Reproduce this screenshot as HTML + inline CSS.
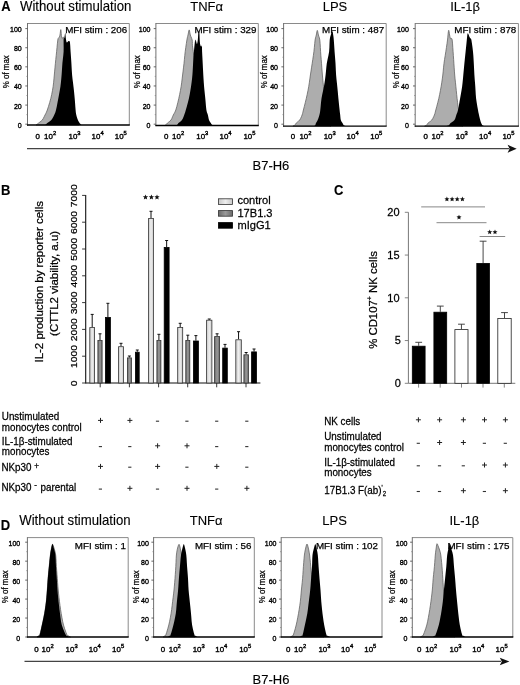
<!DOCTYPE html>
<html><head><meta charset="utf-8"><title>Figure</title>
<style>html,body{margin:0;padding:0;background:#fff;width:520px;height:685px;overflow:hidden}
svg{display:block}body{filter:grayscale(100%)}text{stroke:#000}</style></head><body>
<svg width="520" height="685" viewBox="0 0 520 685" font-family='"Liberation Sans", sans-serif'>
<rect width="520" height="685" fill="#fff"/>
<text transform="translate(1.2 11) scale(0.9390 1)" font-size="13.845" text-anchor="start" font-weight="bold" fill="#000" stroke-width="0.12">A</text>
<text transform="translate(1.0 195.2) scale(0.9390 1)" font-size="13.845" text-anchor="start" font-weight="bold" fill="#000" stroke-width="0.12">B</text>
<text transform="translate(334.0 195.3) scale(0.9390 1)" font-size="13.845" text-anchor="start" font-weight="bold" fill="#000" stroke-width="0.12">C</text>
<text transform="translate(0.8 530) scale(0.9390 1)" font-size="13.845" text-anchor="start" font-weight="bold" fill="#000" stroke-width="0.12">D</text>
<text transform="translate(20.0 11.4) scale(0.9524 1)" font-size="13.860" text-anchor="start" fill="#000" stroke-width="0.12">Without stimulation</text>
<line x1="27.5" y1="23.5" x2="129.3" y2="23.5" stroke="#8a8a8a" stroke-width="1"/>
<line x1="129.3" y1="23.5" x2="129.3" y2="125.0" stroke="#8a8a8a" stroke-width="1"/>
<polygon points="36.00,125.00 36.47,124.67 37.12,124.21 37.69,123.80 37.95,123.59 38.12,123.41 38.60,123.00 39.66,122.24 41.04,121.23 42.30,120.00 43.29,118.48 44.17,116.74 45.00,115.00 45.75,113.58 46.46,112.16 47.30,110.00 48.42,106.63 49.68,102.52 50.80,98.40 51.70,94.51 52.46,90.60 53.10,86.70 53.59,82.80 53.95,78.90 54.30,75.00 54.67,71.10 55.03,67.19 55.40,63.30 55.79,59.43 56.20,55.57 56.60,51.70 57.01,47.45 57.43,43.19 57.80,40.00 58.08,38.61 58.32,38.31 58.60,38.00 58.98,37.50 59.40,36.99 59.80,36.00 60.16,33.74 60.50,30.99 60.80,29.60 61.02,30.77 61.20,33.31 61.40,35.50 61.64,36.81 61.91,37.77 62.20,38.30 62.52,38.11 62.86,37.50 63.20,37.20 63.54,37.43 63.88,37.98 64.20,39.00 64.46,40.54 64.69,42.55 65.00,45.00 65.45,47.93 65.97,51.30 66.50,55.00 67.00,59.15 67.50,63.63 68.00,68.00 68.50,72.07 69.00,76.04 69.50,80.00 70.00,84.00 70.50,88.00 71.00,92.00 71.50,96.11 72.00,100.22 72.50,104.00 73.00,107.33 73.50,110.33 74.00,113.00 74.50,115.30 75.00,117.26 75.50,119.00 76.03,120.60 76.56,121.98 77.00,123.00 77.27,123.49 77.45,123.62 77.70,123.80 78.14,124.21 78.64,124.67 79.00,125.00" fill="#adadad" stroke="#5e5e5e" stroke-width="0.75" stroke-linejoin="round"/>
<polygon points="45.00,125.00 45.41,124.67 45.99,124.21 46.49,123.80 46.70,123.59 46.82,123.41 47.30,123.00 48.44,122.24 49.93,121.23 51.30,120.00 52.39,118.48 53.36,116.74 54.20,115.00 54.86,113.58 55.40,112.16 56.00,110.00 56.74,106.63 57.53,102.52 58.30,98.40 59.05,94.51 59.77,90.60 60.40,86.70 60.88,82.80 61.26,78.90 61.60,75.00 61.88,71.10 62.12,67.19 62.40,63.30 62.81,59.43 63.27,55.57 63.60,51.70 63.66,47.47 63.59,43.22 63.60,40.00 63.81,38.57 64.10,38.16 64.40,37.50 64.67,35.70 64.95,33.64 65.20,32.70 65.41,33.77 65.60,35.96 65.80,38.00 66.02,39.57 66.25,41.00 66.50,42.00 66.79,42.39 67.10,42.36 67.40,42.20 67.65,41.92 67.89,41.50 68.20,41.20 68.66,41.02 69.18,40.96 69.60,41.20 69.83,41.74 69.97,42.60 70.10,44.00 70.26,46.06 70.41,48.66 70.60,51.70 70.85,55.27 71.13,59.28 71.40,63.30 71.61,67.19 71.82,71.10 72.10,75.00 72.52,78.90 73.02,82.80 73.50,86.70 73.93,90.60 74.33,94.51 74.70,98.40 75.03,102.52 75.33,106.63 75.60,110.00 75.81,112.16 76.01,113.58 76.30,115.00 76.76,116.74 77.33,118.48 77.90,120.00 78.50,121.23 79.11,122.24 79.60,123.00 79.88,123.41 80.04,123.59 80.26,123.80 80.68,124.21 81.16,124.67 81.50,125.00" fill="#000"/>
<line x1="27.5" y1="23.0" x2="27.5" y2="125.6" stroke="#707070" stroke-width="1"/>
<line x1="27.0" y1="125.0" x2="129.8" y2="125.0" stroke="#000" stroke-width="1.4"/>
<line x1="25.3" y1="124.2" x2="27.5" y2="124.2" stroke="#444" stroke-width="0.8"/>
<text transform="translate(21.7 127.7) scale(0.8800 1)" font-size="8.000" text-anchor="end" fill="#000" stroke-width="0.38">0</text>
<line x1="26.3" y1="114.64" x2="27.5" y2="114.64" stroke="#777" stroke-width="0.6"/>
<line x1="25.3" y1="105.08000000000001" x2="27.5" y2="105.08000000000001" stroke="#444" stroke-width="0.8"/>
<text transform="translate(21.7 108.58000000000001) scale(0.8800 1)" font-size="8.000" text-anchor="end" fill="#000" stroke-width="0.38">20</text>
<line x1="26.3" y1="95.52000000000001" x2="27.5" y2="95.52000000000001" stroke="#777" stroke-width="0.6"/>
<line x1="25.3" y1="85.96000000000001" x2="27.5" y2="85.96000000000001" stroke="#444" stroke-width="0.8"/>
<text transform="translate(21.7 89.46000000000001) scale(0.8800 1)" font-size="8.000" text-anchor="end" fill="#000" stroke-width="0.38">40</text>
<line x1="26.3" y1="76.4" x2="27.5" y2="76.4" stroke="#777" stroke-width="0.6"/>
<line x1="25.3" y1="66.84" x2="27.5" y2="66.84" stroke="#444" stroke-width="0.8"/>
<text transform="translate(21.7 70.34) scale(0.8800 1)" font-size="8.000" text-anchor="end" fill="#000" stroke-width="0.38">60</text>
<line x1="26.3" y1="57.280000000000015" x2="27.5" y2="57.280000000000015" stroke="#777" stroke-width="0.6"/>
<line x1="25.3" y1="47.72000000000001" x2="27.5" y2="47.72000000000001" stroke="#444" stroke-width="0.8"/>
<text transform="translate(21.7 51.22000000000001) scale(0.8800 1)" font-size="8.000" text-anchor="end" fill="#000" stroke-width="0.38">80</text>
<line x1="26.3" y1="38.16000000000001" x2="27.5" y2="38.16000000000001" stroke="#777" stroke-width="0.6"/>
<line x1="25.3" y1="28.60000000000001" x2="27.5" y2="28.60000000000001" stroke="#444" stroke-width="0.8"/>
<text transform="translate(21.7 32.10000000000001) scale(0.8800 1)" font-size="8.000" text-anchor="end" fill="#000" stroke-width="0.38">100</text>
<text transform="translate(9.2 71.7) rotate(-90) scale(0.8800 1.0000)" font-size="9.000" text-anchor="middle" fill="#000" stroke-width="0.25">% of max</text>
<text transform="translate(127.2 32.8) scale(1.0000 1)" font-size="9.800" text-anchor="end" fill="#000" stroke-width="0.25">MFI stim : 206</text>
<text transform="translate(35.5 139.2) scale(1.0000 1)" font-size="7.900" text-anchor="start" fill="#000" stroke-width="0.38">0</text>
<text transform="translate(44.099999999999994 139.2) scale(1.0000 1)" font-size="7.900" text-anchor="start" stroke-width="0.38">10<tspan font-size="5.8" dy="-3.9">2</tspan></text>
<text transform="translate(68.5 139.2) scale(1.0000 1)" font-size="7.900" text-anchor="start" stroke-width="0.38">10<tspan font-size="5.8" dy="-3.9">3</tspan></text>
<text transform="translate(91.6 139.2) scale(1.0000 1)" font-size="7.900" text-anchor="start" stroke-width="0.38">10<tspan font-size="5.8" dy="-3.9">4</tspan></text>
<text transform="translate(114.8 139.2) scale(1.0000 1)" font-size="7.900" text-anchor="start" stroke-width="0.38">10<tspan font-size="5.8" dy="-3.9">5</tspan></text>
<text transform="translate(190.2 11.4) scale(0.9524 1)" font-size="13.650" text-anchor="start" fill="#000" stroke-width="0.12">TNFα</text>
<line x1="155.9" y1="23.5" x2="258.3" y2="23.5" stroke="#8a8a8a" stroke-width="1"/>
<line x1="258.3" y1="23.5" x2="258.3" y2="125.5" stroke="#8a8a8a" stroke-width="1"/>
<polygon points="164.60,125.50 165.12,125.19 165.85,124.75 166.48,124.30 166.80,123.94 167.01,123.56 167.50,123.00 168.53,122.20 169.83,121.21 171.00,120.00 171.85,118.48 172.56,116.74 173.30,115.00 174.10,113.58 174.92,112.16 175.80,110.00 176.79,106.63 177.83,102.52 178.80,98.40 179.65,94.51 180.42,90.60 181.10,86.70 181.66,82.80 182.14,78.90 182.60,75.00 183.08,71.10 183.55,67.19 184.00,63.30 184.40,59.43 184.77,55.57 185.20,51.70 185.75,47.56 186.36,43.41 186.90,40.00 187.31,37.84 187.65,36.43 188.00,35.00 188.40,32.93 188.80,30.85 189.20,29.90 189.54,30.85 189.88,32.93 190.30,35.00 190.94,36.67 191.66,38.32 192.20,40.00 192.37,41.67 192.34,43.36 192.40,45.20 192.64,47.08 192.97,49.11 193.30,51.70 193.63,55.19 193.97,59.24 194.30,63.30 194.60,67.19 194.90,71.10 195.20,75.00 195.51,78.90 195.84,82.80 196.20,86.70 196.60,90.60 197.03,94.51 197.50,98.40 198.01,102.33 198.57,106.26 199.20,110.00 199.96,113.66 200.79,117.15 201.50,120.00 201.95,121.97 202.28,123.31 202.72,124.30 203.49,124.97 204.37,125.30 205.00,125.50" fill="#adadad" stroke="#5e5e5e" stroke-width="0.75" stroke-linejoin="round"/>
<polygon points="176.00,125.50 176.45,125.19 177.08,124.75 177.62,124.30 177.88,123.94 178.04,123.56 178.50,123.00 179.52,122.20 180.83,121.21 182.00,120.00 182.85,118.48 183.56,116.74 184.20,115.00 184.72,113.58 185.18,112.16 185.80,110.00 186.76,106.63 187.89,102.52 188.90,98.40 189.70,94.51 190.39,90.60 191.00,86.70 191.54,82.80 192.01,78.90 192.40,75.00 192.68,71.10 192.89,67.19 193.10,63.30 193.34,59.43 193.60,55.57 193.90,51.70 194.31,47.30 194.76,42.89 195.10,40.00 195.24,39.82 195.26,41.17 195.30,42.00 195.38,41.28 195.47,40.05 195.60,39.40 195.80,39.90 196.05,40.99 196.30,42.00 196.53,42.93 196.76,43.80 197.00,44.00 197.27,43.22 197.55,41.78 197.80,40.00 197.99,37.69 198.14,35.05 198.30,33.00 198.46,31.91 198.63,31.42 198.80,31.30 199.00,31.42 199.22,31.91 199.40,33.00 199.51,35.01 199.59,37.62 199.70,40.00 199.86,41.94 200.05,43.66 200.30,45.00 200.65,45.90 201.06,46.41 201.40,46.60 201.62,46.06 201.78,45.19 201.90,45.20 201.97,46.59 202.01,48.86 202.10,51.70 202.27,55.19 202.49,59.24 202.70,63.30 202.89,67.19 203.09,71.10 203.30,75.00 203.54,78.90 203.80,82.80 204.10,86.70 204.47,90.60 204.89,94.51 205.30,98.40 205.66,102.52 206.01,106.63 206.40,110.00 206.89,112.16 207.41,113.58 207.90,115.00 208.27,116.74 208.60,118.48 209.00,120.00 209.59,121.21 210.25,122.20 210.80,123.00 211.11,123.56 211.30,123.94 211.57,124.30 212.05,124.75 212.60,125.19 213.00,125.50" fill="#000"/>
<line x1="155.9" y1="23.0" x2="155.9" y2="126.1" stroke="#707070" stroke-width="1"/>
<line x1="155.4" y1="125.5" x2="258.8" y2="125.5" stroke="#000" stroke-width="1.4"/>
<line x1="153.70000000000002" y1="124.2" x2="155.9" y2="124.2" stroke="#444" stroke-width="0.8"/>
<text transform="translate(150.5 127.7) scale(0.8800 1)" font-size="8.000" text-anchor="end" fill="#000" stroke-width="0.38">0</text>
<line x1="154.70000000000002" y1="114.64" x2="155.9" y2="114.64" stroke="#777" stroke-width="0.6"/>
<line x1="153.70000000000002" y1="105.08000000000001" x2="155.9" y2="105.08000000000001" stroke="#444" stroke-width="0.8"/>
<text transform="translate(150.5 108.58000000000001) scale(0.8800 1)" font-size="8.000" text-anchor="end" fill="#000" stroke-width="0.38">20</text>
<line x1="154.70000000000002" y1="95.52000000000001" x2="155.9" y2="95.52000000000001" stroke="#777" stroke-width="0.6"/>
<line x1="153.70000000000002" y1="85.96000000000001" x2="155.9" y2="85.96000000000001" stroke="#444" stroke-width="0.8"/>
<text transform="translate(150.5 89.46000000000001) scale(0.8800 1)" font-size="8.000" text-anchor="end" fill="#000" stroke-width="0.38">40</text>
<line x1="154.70000000000002" y1="76.4" x2="155.9" y2="76.4" stroke="#777" stroke-width="0.6"/>
<line x1="153.70000000000002" y1="66.84" x2="155.9" y2="66.84" stroke="#444" stroke-width="0.8"/>
<text transform="translate(150.5 70.34) scale(0.8800 1)" font-size="8.000" text-anchor="end" fill="#000" stroke-width="0.38">60</text>
<line x1="154.70000000000002" y1="57.280000000000015" x2="155.9" y2="57.280000000000015" stroke="#777" stroke-width="0.6"/>
<line x1="153.70000000000002" y1="47.72000000000001" x2="155.9" y2="47.72000000000001" stroke="#444" stroke-width="0.8"/>
<text transform="translate(150.5 51.22000000000001) scale(0.8800 1)" font-size="8.000" text-anchor="end" fill="#000" stroke-width="0.38">80</text>
<line x1="154.70000000000002" y1="38.16000000000001" x2="155.9" y2="38.16000000000001" stroke="#777" stroke-width="0.6"/>
<line x1="153.70000000000002" y1="28.60000000000001" x2="155.9" y2="28.60000000000001" stroke="#444" stroke-width="0.8"/>
<text transform="translate(150.5 32.10000000000001) scale(0.8800 1)" font-size="8.000" text-anchor="end" fill="#000" stroke-width="0.38">100</text>
<text transform="translate(140.3 71.7) rotate(-90) scale(0.8800 1.0000)" font-size="9.000" text-anchor="middle" fill="#000" stroke-width="0.25">% of max</text>
<text transform="translate(256.5 32.8) scale(1.0000 1)" font-size="9.800" text-anchor="end" fill="#000" stroke-width="0.25">MFI stim : 329</text>
<text transform="translate(164.1 139.2) scale(1.0000 1)" font-size="7.900" text-anchor="start" fill="#000" stroke-width="0.38">0</text>
<text transform="translate(172.10000000000002 139.2) scale(1.0000 1)" font-size="7.900" text-anchor="start" stroke-width="0.38">10<tspan font-size="5.8" dy="-3.9">2</tspan></text>
<text transform="translate(196.3 139.2) scale(1.0000 1)" font-size="7.900" text-anchor="start" stroke-width="0.38">10<tspan font-size="5.8" dy="-3.9">3</tspan></text>
<text transform="translate(219.5 139.2) scale(1.0000 1)" font-size="7.900" text-anchor="start" stroke-width="0.38">10<tspan font-size="5.8" dy="-3.9">4</tspan></text>
<text transform="translate(243.4 139.2) scale(1.0000 1)" font-size="7.900" text-anchor="start" stroke-width="0.38">10<tspan font-size="5.8" dy="-3.9">5</tspan></text>
<text transform="translate(322.7 11.4) scale(0.9524 1)" font-size="13.650" text-anchor="start" fill="#000" stroke-width="0.12">LPS</text>
<line x1="283.6" y1="23.5" x2="386.2" y2="23.5" stroke="#8a8a8a" stroke-width="1"/>
<line x1="386.2" y1="23.5" x2="386.2" y2="126.1" stroke="#8a8a8a" stroke-width="1"/>
<polygon points="292.90,126.10 293.51,125.81 294.37,125.40 295.11,124.90 295.50,124.36 295.78,123.74 296.30,123.00 297.31,122.16 298.56,121.19 299.70,120.00 300.61,118.48 301.42,116.74 302.10,115.00 302.56,113.58 302.89,112.16 303.40,110.00 304.27,106.63 305.31,102.52 306.30,98.40 307.16,94.51 307.97,90.60 308.70,86.70 309.31,82.80 309.85,78.90 310.40,75.00 311.00,71.10 311.60,67.19 312.20,63.30 312.79,59.43 313.37,55.57 313.90,51.70 314.34,47.56 314.72,43.41 315.10,40.00 315.51,37.82 315.91,36.39 316.30,35.00 316.64,33.10 316.97,31.24 317.30,30.40 317.65,31.24 318.01,33.10 318.40,35.00 318.87,36.39 319.37,37.82 319.80,40.00 320.11,43.41 320.35,47.56 320.60,51.70 320.89,55.57 321.20,59.43 321.50,63.30 321.79,67.19 322.09,71.10 322.40,75.00 322.74,78.90 323.11,82.80 323.50,86.70 323.90,90.60 324.33,94.51 324.80,98.40 325.33,102.33 325.90,106.26 326.50,110.00 327.19,113.64 327.91,117.10 328.50,120.00 328.85,122.15 329.07,123.73 329.38,124.90 329.92,125.62 330.55,125.93 331.00,126.10" fill="#adadad" stroke="#5e5e5e" stroke-width="0.75" stroke-linejoin="round"/>
<polygon points="314.20,126.10 314.52,125.81 314.98,125.40 315.37,124.90 315.58,124.36 315.73,123.74 316.00,123.00 316.49,122.16 317.09,121.19 317.70,120.00 318.30,118.48 318.89,116.74 319.40,115.00 319.75,113.58 320.01,112.16 320.30,110.00 320.63,106.63 321.00,102.52 321.50,98.40 322.24,94.51 323.11,90.60 323.90,86.70 324.54,82.80 325.10,78.90 325.60,75.00 326.00,71.10 326.34,67.19 326.80,63.30 327.55,59.43 328.42,55.57 329.10,51.70 329.41,47.56 329.53,43.41 329.70,40.00 330.01,37.79 330.39,36.33 330.80,35.00 331.29,33.36 331.83,31.86 332.30,31.20 332.66,31.86 332.94,33.36 333.20,35.00 333.41,36.33 333.60,37.79 333.80,40.00 334.05,43.41 334.32,47.56 334.60,51.70 334.90,55.57 335.22,59.43 335.50,63.30 335.70,67.19 335.87,71.10 336.10,75.00 336.46,78.90 336.89,82.80 337.30,86.70 337.67,90.60 338.03,94.51 338.40,98.40 338.81,102.52 339.24,106.63 339.60,110.00 339.84,112.16 340.02,113.58 340.20,115.00 340.36,116.74 340.52,118.48 340.80,120.00 341.31,121.19 341.94,122.16 342.50,123.00 342.86,123.74 343.14,124.36 343.51,124.90 344.15,125.40 344.88,125.81 345.40,126.10" fill="#000"/>
<line x1="283.6" y1="23.0" x2="283.6" y2="126.69999999999999" stroke="#707070" stroke-width="1"/>
<line x1="283.1" y1="126.1" x2="386.7" y2="126.1" stroke="#000" stroke-width="1.4"/>
<line x1="281.40000000000003" y1="124.2" x2="283.6" y2="124.2" stroke="#444" stroke-width="0.8"/>
<text transform="translate(278.0 127.7) scale(0.8800 1)" font-size="8.000" text-anchor="end" fill="#000" stroke-width="0.38">0</text>
<line x1="282.40000000000003" y1="114.64" x2="283.6" y2="114.64" stroke="#777" stroke-width="0.6"/>
<line x1="281.40000000000003" y1="105.08000000000001" x2="283.6" y2="105.08000000000001" stroke="#444" stroke-width="0.8"/>
<text transform="translate(278.0 108.58000000000001) scale(0.8800 1)" font-size="8.000" text-anchor="end" fill="#000" stroke-width="0.38">20</text>
<line x1="282.40000000000003" y1="95.52000000000001" x2="283.6" y2="95.52000000000001" stroke="#777" stroke-width="0.6"/>
<line x1="281.40000000000003" y1="85.96000000000001" x2="283.6" y2="85.96000000000001" stroke="#444" stroke-width="0.8"/>
<text transform="translate(278.0 89.46000000000001) scale(0.8800 1)" font-size="8.000" text-anchor="end" fill="#000" stroke-width="0.38">40</text>
<line x1="282.40000000000003" y1="76.4" x2="283.6" y2="76.4" stroke="#777" stroke-width="0.6"/>
<line x1="281.40000000000003" y1="66.84" x2="283.6" y2="66.84" stroke="#444" stroke-width="0.8"/>
<text transform="translate(278.0 70.34) scale(0.8800 1)" font-size="8.000" text-anchor="end" fill="#000" stroke-width="0.38">60</text>
<line x1="282.40000000000003" y1="57.280000000000015" x2="283.6" y2="57.280000000000015" stroke="#777" stroke-width="0.6"/>
<line x1="281.40000000000003" y1="47.72000000000001" x2="283.6" y2="47.72000000000001" stroke="#444" stroke-width="0.8"/>
<text transform="translate(278.0 51.22000000000001) scale(0.8800 1)" font-size="8.000" text-anchor="end" fill="#000" stroke-width="0.38">80</text>
<line x1="282.40000000000003" y1="38.16000000000001" x2="283.6" y2="38.16000000000001" stroke="#777" stroke-width="0.6"/>
<line x1="281.40000000000003" y1="28.60000000000001" x2="283.6" y2="28.60000000000001" stroke="#444" stroke-width="0.8"/>
<text transform="translate(278.0 32.10000000000001) scale(0.8800 1)" font-size="8.000" text-anchor="end" fill="#000" stroke-width="0.38">100</text>
<text transform="translate(267.0 71.7) rotate(-90) scale(0.8800 1.0000)" font-size="9.000" text-anchor="middle" fill="#000" stroke-width="0.25">% of max</text>
<text transform="translate(384.1 32.8) scale(1.0000 1)" font-size="9.800" text-anchor="end" fill="#000" stroke-width="0.25">MFI stim : 487</text>
<text transform="translate(290.7 139.2) scale(1.0000 1)" font-size="7.900" text-anchor="start" fill="#000" stroke-width="0.38">0</text>
<text transform="translate(299.40000000000003 139.2) scale(1.0000 1)" font-size="7.900" text-anchor="start" stroke-width="0.38">10<tspan font-size="5.8" dy="-3.9">2</tspan></text>
<text transform="translate(323.7 139.2) scale(1.0000 1)" font-size="7.900" text-anchor="start" stroke-width="0.38">10<tspan font-size="5.8" dy="-3.9">3</tspan></text>
<text transform="translate(346.6 139.2) scale(1.0000 1)" font-size="7.900" text-anchor="start" stroke-width="0.38">10<tspan font-size="5.8" dy="-3.9">4</tspan></text>
<text transform="translate(370.3 139.2) scale(1.0000 1)" font-size="7.900" text-anchor="start" stroke-width="0.38">10<tspan font-size="5.8" dy="-3.9">5</tspan></text>
<text transform="translate(450.2 11.4) scale(0.9524 1)" font-size="13.650" text-anchor="start" fill="#000" stroke-width="0.12">IL-1β</text>
<line x1="415.2" y1="23.5" x2="518.4" y2="23.5" stroke="#8a8a8a" stroke-width="1"/>
<line x1="518.4" y1="23.5" x2="518.4" y2="126.1" stroke="#8a8a8a" stroke-width="1"/>
<polygon points="424.60,126.10 425.23,125.81 426.11,125.40 426.88,124.90 427.27,124.36 427.55,123.74 428.10,123.00 429.19,122.16 430.56,121.19 431.80,120.00 432.79,118.48 433.66,116.74 434.40,115.00 434.90,113.58 435.26,112.16 435.80,110.00 436.71,106.63 437.79,102.52 438.80,98.40 439.64,94.51 440.40,90.60 441.10,86.70 441.73,82.80 442.29,78.90 442.80,75.00 443.21,71.10 443.57,67.19 444.00,63.30 444.56,59.43 445.19,55.57 445.80,51.70 446.41,47.63 447.01,43.56 447.50,40.00 447.81,37.16 448.01,34.84 448.20,33.00 448.40,31.51 448.59,30.49 448.80,30.30 449.05,31.35 449.32,33.23 449.60,35.00 449.90,36.49 450.21,37.87 450.50,38.80 450.74,38.94 450.95,38.62 451.20,38.50 451.51,38.49 451.86,38.68 452.20,40.00 452.51,43.15 452.81,47.43 453.10,51.70 453.37,55.57 453.64,59.43 453.90,63.30 454.15,67.19 454.40,71.10 454.70,75.00 455.07,78.90 455.49,82.80 455.90,86.70 456.29,90.60 456.68,94.51 457.10,98.40 457.56,102.33 458.06,106.26 458.60,110.00 459.24,113.64 459.93,117.10 460.50,120.00 460.84,122.15 461.07,123.73 461.38,124.90 461.92,125.62 462.55,125.93 463.00,126.10" fill="#adadad" stroke="#5e5e5e" stroke-width="0.75" stroke-linejoin="round"/>
<polygon points="446.50,126.10 447.24,125.81 448.27,125.40 449.17,124.90 449.64,124.36 449.98,123.74 450.60,123.00 451.80,122.16 453.26,121.19 454.50,120.00 455.26,118.48 455.79,116.74 456.30,115.00 456.86,113.58 457.41,112.16 458.00,110.00 458.67,106.63 459.39,102.52 460.10,98.40 460.80,94.51 461.50,90.60 462.10,86.70 462.56,82.80 462.94,78.90 463.30,75.00 463.67,71.10 464.03,67.19 464.40,63.30 464.79,59.43 465.20,55.57 465.60,51.70 466.03,47.56 466.45,43.41 466.80,40.00 467.02,37.71 467.16,36.17 467.30,35.00 467.46,34.08 467.61,33.53 467.80,33.30 468.04,33.44 468.31,33.90 468.60,34.50 468.89,35.27 469.19,36.19 469.50,37.00 469.83,37.57 470.17,38.04 470.50,38.50 470.78,38.62 471.05,38.74 471.40,40.00 471.91,43.15 472.50,47.43 473.00,51.70 473.33,55.57 473.58,59.43 473.80,63.30 474.00,67.19 474.19,71.10 474.40,75.00 474.68,78.90 475.00,82.80 475.30,86.70 475.53,90.60 475.76,94.51 476.10,98.40 476.69,102.52 477.39,106.63 478.00,110.00 478.39,112.16 478.69,113.58 479.00,115.00 479.39,116.74 479.81,118.48 480.20,120.00 480.55,121.19 480.88,122.16 481.20,123.00 481.50,123.74 481.79,124.36 482.18,124.90 482.79,125.40 483.50,125.81 484.00,126.10" fill="#000"/>
<line x1="415.2" y1="23.0" x2="415.2" y2="126.69999999999999" stroke="#707070" stroke-width="1"/>
<line x1="414.7" y1="126.1" x2="518.9" y2="126.1" stroke="#000" stroke-width="1.4"/>
<line x1="413.0" y1="124.2" x2="415.2" y2="124.2" stroke="#444" stroke-width="0.8"/>
<text transform="translate(408.8 127.7) scale(0.8800 1)" font-size="8.000" text-anchor="end" fill="#000" stroke-width="0.38">0</text>
<line x1="414.0" y1="114.64" x2="415.2" y2="114.64" stroke="#777" stroke-width="0.6"/>
<line x1="413.0" y1="105.08000000000001" x2="415.2" y2="105.08000000000001" stroke="#444" stroke-width="0.8"/>
<text transform="translate(408.8 108.58000000000001) scale(0.8800 1)" font-size="8.000" text-anchor="end" fill="#000" stroke-width="0.38">20</text>
<line x1="414.0" y1="95.52000000000001" x2="415.2" y2="95.52000000000001" stroke="#777" stroke-width="0.6"/>
<line x1="413.0" y1="85.96000000000001" x2="415.2" y2="85.96000000000001" stroke="#444" stroke-width="0.8"/>
<text transform="translate(408.8 89.46000000000001) scale(0.8800 1)" font-size="8.000" text-anchor="end" fill="#000" stroke-width="0.38">40</text>
<line x1="414.0" y1="76.4" x2="415.2" y2="76.4" stroke="#777" stroke-width="0.6"/>
<line x1="413.0" y1="66.84" x2="415.2" y2="66.84" stroke="#444" stroke-width="0.8"/>
<text transform="translate(408.8 70.34) scale(0.8800 1)" font-size="8.000" text-anchor="end" fill="#000" stroke-width="0.38">60</text>
<line x1="414.0" y1="57.280000000000015" x2="415.2" y2="57.280000000000015" stroke="#777" stroke-width="0.6"/>
<line x1="413.0" y1="47.72000000000001" x2="415.2" y2="47.72000000000001" stroke="#444" stroke-width="0.8"/>
<text transform="translate(408.8 51.22000000000001) scale(0.8800 1)" font-size="8.000" text-anchor="end" fill="#000" stroke-width="0.38">80</text>
<line x1="414.0" y1="38.16000000000001" x2="415.2" y2="38.16000000000001" stroke="#777" stroke-width="0.6"/>
<line x1="413.0" y1="28.60000000000001" x2="415.2" y2="28.60000000000001" stroke="#444" stroke-width="0.8"/>
<text transform="translate(408.8 32.10000000000001) scale(0.8800 1)" font-size="8.000" text-anchor="end" fill="#000" stroke-width="0.38">100</text>
<text transform="translate(398.8 71.7) rotate(-90) scale(0.8800 1.0000)" font-size="9.000" text-anchor="middle" fill="#000" stroke-width="0.25">% of max</text>
<text transform="translate(516.3 32.8) scale(1.0000 1)" font-size="9.800" text-anchor="end" fill="#000" stroke-width="0.25">MFI stim : 878</text>
<text transform="translate(423.5 139.2) scale(1.0000 1)" font-size="7.900" text-anchor="start" fill="#000" stroke-width="0.38">0</text>
<text transform="translate(431.5 139.2) scale(1.0000 1)" font-size="7.900" text-anchor="start" stroke-width="0.38">10<tspan font-size="5.8" dy="-3.9">2</tspan></text>
<text transform="translate(455.8 139.2) scale(1.0000 1)" font-size="7.900" text-anchor="start" stroke-width="0.38">10<tspan font-size="5.8" dy="-3.9">3</tspan></text>
<text transform="translate(479.1 139.2) scale(1.0000 1)" font-size="7.900" text-anchor="start" stroke-width="0.38">10<tspan font-size="5.8" dy="-3.9">4</tspan></text>
<text transform="translate(502.40000000000003 139.2) scale(1.0000 1)" font-size="7.900" text-anchor="start" stroke-width="0.38">10<tspan font-size="5.8" dy="-3.9">5</tspan></text>
<line x1="27" y1="148.7" x2="509" y2="148.7" stroke="#444" stroke-width="1.3"/>
<path d="M516.7,148.7 L507.6,144.7 L509.6,148.7 L507.6,152.7 Z" fill="#111"/>
<text transform="translate(252.5 170) scale(0.9804 1)" font-size="13.260" text-anchor="start" fill="#000" stroke-width="0.12">B7-H6</text>
<text transform="translate(19.2 524.9) scale(0.9524 1)" font-size="13.860" text-anchor="start" fill="#000" stroke-width="0.12">Without stimulation</text>
<line x1="27.4" y1="537.6" x2="128.2" y2="537.6" stroke="#8a8a8a" stroke-width="1"/>
<line x1="128.2" y1="537.6" x2="128.2" y2="637.0" stroke="#8a8a8a" stroke-width="1"/>
<polygon points="37.00,637.00 37.50,636.67 38.21,636.21 38.82,635.80 39.16,635.84 39.40,635.93 39.80,635.00 40.49,632.41 41.35,628.79 42.20,625.00 43.03,621.26 43.85,617.33 44.60,613.40 45.24,609.51 45.81,605.60 46.30,601.70 46.69,597.80 47.01,593.89 47.30,590.00 47.57,586.13 47.82,582.27 48.10,578.40 48.44,574.51 48.81,570.60 49.20,566.70 49.59,562.66 49.99,558.63 50.40,555.00 50.84,551.86 51.29,549.14 51.70,547.00 52.02,545.51 52.30,544.60 52.60,544.30 52.92,544.60 53.26,545.51 53.70,547.00 54.35,549.14 55.10,551.86 55.70,555.00 56.02,558.63 56.20,562.66 56.40,566.70 56.69,570.60 56.99,574.51 57.30,578.40 57.59,582.27 57.87,586.13 58.20,590.00 58.59,593.89 59.02,597.80 59.50,601.70 60.01,605.60 60.57,609.51 61.20,613.40 61.88,617.33 62.62,621.26 63.50,625.00 64.66,628.79 65.96,632.41 67.00,635.00 67.54,635.93 67.82,635.84 68.22,635.80 68.99,636.21 69.87,636.67 70.50,637.00" fill="#adadad" stroke="#5e5e5e" stroke-width="0.75" stroke-linejoin="round"/>
<polygon points="36.50,637.00 37.06,636.67 37.84,636.21 38.52,635.80 38.90,635.84 39.18,635.93 39.60,635.00 40.27,632.41 41.08,628.79 41.90,625.00 42.72,621.26 43.55,617.33 44.30,613.40 44.94,609.51 45.51,605.60 46.00,601.70 46.39,597.80 46.71,593.89 47.00,590.00 47.27,586.13 47.52,582.27 47.80,578.40 48.14,574.51 48.51,570.60 48.90,566.70 49.29,562.66 49.68,558.63 50.10,555.00 50.57,551.87 51.06,549.16 51.50,547.00 51.86,545.41 52.18,544.37 52.50,544.00 52.80,544.37 53.10,545.41 53.50,547.00 54.11,549.16 54.83,551.87 55.40,555.00 55.69,558.63 55.83,562.66 56.00,566.70 56.26,570.60 56.53,574.51 56.80,578.40 57.03,582.27 57.24,586.13 57.50,590.00 57.83,593.89 58.20,597.80 58.60,601.70 59.03,605.60 59.49,609.51 60.00,613.40 60.49,617.33 61.01,621.26 61.80,625.00 63.11,628.79 64.67,632.41 65.90,635.00 66.45,635.93 66.67,635.84 66.99,635.80 67.66,636.21 68.44,636.67 69.00,637.00" fill="#000"/>
<line x1="27.4" y1="537.1" x2="27.4" y2="637.6" stroke="#707070" stroke-width="1"/>
<line x1="26.9" y1="637.0" x2="128.7" y2="637.0" stroke="#000" stroke-width="1.4"/>
<line x1="25.2" y1="637.0" x2="27.4" y2="637.0" stroke="#444" stroke-width="0.8"/>
<text transform="translate(20.2 640.5) scale(0.8800 1)" font-size="8.000" text-anchor="end" fill="#000" stroke-width="0.38">0</text>
<line x1="26.2" y1="627.52" x2="27.4" y2="627.52" stroke="#777" stroke-width="0.6"/>
<line x1="25.2" y1="618.04" x2="27.4" y2="618.04" stroke="#444" stroke-width="0.8"/>
<text transform="translate(20.2 621.54) scale(0.8800 1)" font-size="8.000" text-anchor="end" fill="#000" stroke-width="0.38">20</text>
<line x1="26.2" y1="608.5600000000001" x2="27.4" y2="608.5600000000001" stroke="#777" stroke-width="0.6"/>
<line x1="25.2" y1="599.08" x2="27.4" y2="599.08" stroke="#444" stroke-width="0.8"/>
<text transform="translate(20.2 602.58) scale(0.8800 1)" font-size="8.000" text-anchor="end" fill="#000" stroke-width="0.38">40</text>
<line x1="26.2" y1="589.6" x2="27.4" y2="589.6" stroke="#777" stroke-width="0.6"/>
<line x1="25.2" y1="580.12" x2="27.4" y2="580.12" stroke="#444" stroke-width="0.8"/>
<text transform="translate(20.2 583.62) scale(0.8800 1)" font-size="8.000" text-anchor="end" fill="#000" stroke-width="0.38">60</text>
<line x1="26.2" y1="570.64" x2="27.4" y2="570.64" stroke="#777" stroke-width="0.6"/>
<line x1="25.2" y1="561.1600000000001" x2="27.4" y2="561.1600000000001" stroke="#444" stroke-width="0.8"/>
<text transform="translate(20.2 564.6600000000001) scale(0.8800 1)" font-size="8.000" text-anchor="end" fill="#000" stroke-width="0.38">80</text>
<line x1="26.2" y1="551.6800000000001" x2="27.4" y2="551.6800000000001" stroke="#777" stroke-width="0.6"/>
<line x1="25.2" y1="542.2" x2="27.4" y2="542.2" stroke="#444" stroke-width="0.8"/>
<text transform="translate(20.2 545.7) scale(0.8800 1)" font-size="8.000" text-anchor="end" fill="#000" stroke-width="0.38">100</text>
<text transform="translate(7.5 586.7) rotate(-90) scale(0.8800 1.0000)" font-size="9.000" text-anchor="middle" fill="#000" stroke-width="0.25">% of max</text>
<text transform="translate(126.0 548.6) scale(1.0000 1)" font-size="9.800" text-anchor="end" fill="#000" stroke-width="0.25">MFI stim : 1</text>
<text transform="translate(34.2 651.6) scale(1.0000 1)" font-size="7.900" text-anchor="start" fill="#000" stroke-width="0.38">0</text>
<text transform="translate(41.599999999999994 651.6) scale(1.0000 1)" font-size="7.900" text-anchor="start" stroke-width="0.38">10<tspan font-size="5.8" dy="-3.9">2</tspan></text>
<text transform="translate(65.6 651.6) scale(1.0000 1)" font-size="7.900" text-anchor="start" stroke-width="0.38">10<tspan font-size="5.8" dy="-3.9">3</tspan></text>
<text transform="translate(88.8 651.6) scale(1.0000 1)" font-size="7.900" text-anchor="start" stroke-width="0.38">10<tspan font-size="5.8" dy="-3.9">4</tspan></text>
<text transform="translate(112.1 651.6) scale(1.0000 1)" font-size="7.900" text-anchor="start" stroke-width="0.38">10<tspan font-size="5.8" dy="-3.9">5</tspan></text>
<text transform="translate(189.7 524.9) scale(0.9524 1)" font-size="13.650" text-anchor="start" fill="#000" stroke-width="0.12">TNFα</text>
<line x1="153.6" y1="537.6" x2="254.3" y2="537.6" stroke="#8a8a8a" stroke-width="1"/>
<line x1="254.3" y1="537.6" x2="254.3" y2="637.0" stroke="#8a8a8a" stroke-width="1"/>
<polygon points="163.00,637.00 163.50,636.67 164.21,636.21 164.82,635.80 165.13,635.84 165.35,635.93 165.80,635.00 166.68,632.41 167.78,628.79 168.80,625.00 169.65,621.26 170.42,617.33 171.10,613.40 171.66,609.51 172.14,605.60 172.60,601.70 173.09,597.80 173.57,593.89 174.00,590.00 174.37,586.13 174.70,582.27 175.00,578.40 175.29,574.51 175.56,570.60 175.80,566.70 175.99,562.63 176.16,558.55 176.40,555.00 176.75,552.20 177.16,549.91 177.60,548.00 178.07,546.29 178.56,544.94 179.00,544.30 179.38,544.71 179.71,545.84 180.00,547.00 180.22,547.90 180.39,548.84 180.60,550.00 180.88,551.27 181.20,552.76 181.50,555.00 181.77,558.40 182.03,562.55 182.30,566.70 182.60,570.60 182.90,574.51 183.20,578.40 183.46,582.27 183.71,586.13 184.00,590.00 184.37,593.89 184.78,597.80 185.20,601.70 185.60,605.60 186.01,609.51 186.50,613.40 187.08,617.33 187.73,621.26 188.50,625.00 189.49,628.79 190.59,632.41 191.50,635.00 192.00,635.93 192.30,635.84 192.73,635.80 193.49,636.21 194.37,636.67 195.00,637.00" fill="#adadad" stroke="#5e5e5e" stroke-width="0.75" stroke-linejoin="round"/>
<polygon points="167.50,637.00 168.04,636.67 168.79,636.21 169.45,635.80 169.80,635.84 170.05,635.93 170.50,635.00 171.35,632.41 172.40,628.79 173.40,625.00 174.29,621.26 175.11,617.33 175.80,613.40 176.26,609.51 176.57,605.60 176.90,601.70 177.31,597.80 177.73,593.89 178.10,590.00 178.39,586.13 178.63,582.27 178.90,578.40 179.21,574.51 179.55,570.60 179.90,566.70 180.24,562.63 180.60,558.55 181.00,555.00 181.48,552.21 182.00,549.94 182.50,548.00 182.95,546.15 183.38,544.63 183.80,544.00 184.20,544.63 184.60,546.15 185.00,548.00 185.44,549.94 185.90,552.21 186.30,555.00 186.60,558.55 186.84,562.63 187.10,566.70 187.40,570.60 187.72,574.51 188.00,578.40 188.20,582.27 188.37,586.13 188.60,590.00 188.96,593.89 189.38,597.80 189.80,601.70 190.20,605.60 190.61,609.51 191.00,613.40 191.33,617.33 191.64,621.26 192.10,625.00 192.85,628.79 193.75,632.41 194.50,635.00 194.92,635.93 195.18,635.84 195.55,635.80 196.21,636.21 196.96,636.67 197.50,637.00" fill="#000"/>
<line x1="153.6" y1="537.1" x2="153.6" y2="637.6" stroke="#707070" stroke-width="1"/>
<line x1="153.1" y1="637.0" x2="254.8" y2="637.0" stroke="#000" stroke-width="1.4"/>
<line x1="151.4" y1="637.0" x2="153.6" y2="637.0" stroke="#444" stroke-width="0.8"/>
<text transform="translate(148.9 640.5) scale(0.8800 1)" font-size="8.000" text-anchor="end" fill="#000" stroke-width="0.38">0</text>
<line x1="152.4" y1="627.52" x2="153.6" y2="627.52" stroke="#777" stroke-width="0.6"/>
<line x1="151.4" y1="618.04" x2="153.6" y2="618.04" stroke="#444" stroke-width="0.8"/>
<text transform="translate(148.9 621.54) scale(0.8800 1)" font-size="8.000" text-anchor="end" fill="#000" stroke-width="0.38">20</text>
<line x1="152.4" y1="608.5600000000001" x2="153.6" y2="608.5600000000001" stroke="#777" stroke-width="0.6"/>
<line x1="151.4" y1="599.08" x2="153.6" y2="599.08" stroke="#444" stroke-width="0.8"/>
<text transform="translate(148.9 602.58) scale(0.8800 1)" font-size="8.000" text-anchor="end" fill="#000" stroke-width="0.38">40</text>
<line x1="152.4" y1="589.6" x2="153.6" y2="589.6" stroke="#777" stroke-width="0.6"/>
<line x1="151.4" y1="580.12" x2="153.6" y2="580.12" stroke="#444" stroke-width="0.8"/>
<text transform="translate(148.9 583.62) scale(0.8800 1)" font-size="8.000" text-anchor="end" fill="#000" stroke-width="0.38">60</text>
<line x1="152.4" y1="570.64" x2="153.6" y2="570.64" stroke="#777" stroke-width="0.6"/>
<line x1="151.4" y1="561.1600000000001" x2="153.6" y2="561.1600000000001" stroke="#444" stroke-width="0.8"/>
<text transform="translate(148.9 564.6600000000001) scale(0.8800 1)" font-size="8.000" text-anchor="end" fill="#000" stroke-width="0.38">80</text>
<line x1="152.4" y1="551.6800000000001" x2="153.6" y2="551.6800000000001" stroke="#777" stroke-width="0.6"/>
<line x1="151.4" y1="542.2" x2="153.6" y2="542.2" stroke="#444" stroke-width="0.8"/>
<text transform="translate(148.9 545.7) scale(0.8800 1)" font-size="8.000" text-anchor="end" fill="#000" stroke-width="0.38">100</text>
<text transform="translate(138.5 586.7) rotate(-90) scale(0.8800 1.0000)" font-size="9.000" text-anchor="middle" fill="#000" stroke-width="0.25">% of max</text>
<text transform="translate(251.5 548.6) scale(1.0000 1)" font-size="9.800" text-anchor="end" fill="#000" stroke-width="0.25">MFI stim : 56</text>
<text transform="translate(160.7 651.6) scale(1.0000 1)" font-size="7.900" text-anchor="start" fill="#000" stroke-width="0.38">0</text>
<text transform="translate(168.8 651.6) scale(1.0000 1)" font-size="7.900" text-anchor="start" stroke-width="0.38">10<tspan font-size="5.8" dy="-3.9">2</tspan></text>
<text transform="translate(192.70000000000002 651.6) scale(1.0000 1)" font-size="7.900" text-anchor="start" stroke-width="0.38">10<tspan font-size="5.8" dy="-3.9">3</tspan></text>
<text transform="translate(215.3 651.6) scale(1.0000 1)" font-size="7.900" text-anchor="start" stroke-width="0.38">10<tspan font-size="5.8" dy="-3.9">4</tspan></text>
<text transform="translate(239.20000000000002 651.6) scale(1.0000 1)" font-size="7.900" text-anchor="start" stroke-width="0.38">10<tspan font-size="5.8" dy="-3.9">5</tspan></text>
<text transform="translate(322.3 524.9) scale(0.9524 1)" font-size="13.650" text-anchor="start" fill="#000" stroke-width="0.12">LPS</text>
<line x1="281.2" y1="537.6" x2="382" y2="537.6" stroke="#8a8a8a" stroke-width="1"/>
<line x1="382" y1="537.6" x2="382" y2="637.0" stroke="#8a8a8a" stroke-width="1"/>
<polygon points="290.50,637.00 291.00,636.67 291.71,636.21 292.32,635.80 292.64,635.84 292.86,635.93 293.30,635.00 294.15,632.41 295.21,628.79 296.20,625.00 297.03,621.26 297.79,617.33 298.50,613.40 299.16,609.51 299.77,605.60 300.30,601.70 300.71,597.80 301.05,593.89 301.40,590.00 301.81,586.13 302.23,582.27 302.60,578.40 302.89,574.51 303.13,570.60 303.40,566.70 303.71,562.63 304.04,558.55 304.40,555.00 304.81,552.21 305.26,549.94 305.70,548.00 306.13,546.15 306.57,544.63 307.00,544.00 307.43,544.63 307.87,546.15 308.30,548.00 308.74,549.94 309.17,552.21 309.60,555.00 310.01,558.55 310.42,562.63 310.80,566.70 311.14,570.60 311.46,574.51 311.80,578.40 312.18,582.27 312.59,586.13 313.00,590.00 313.42,593.89 313.85,597.80 314.30,601.70 314.77,605.60 315.26,609.51 315.80,613.40 316.40,617.33 317.06,621.26 317.80,625.00 318.70,628.79 319.68,632.41 320.50,635.00 320.98,635.93 321.29,635.84 321.73,635.80 322.49,636.21 323.37,636.67 324.00,637.00" fill="#adadad" stroke="#5e5e5e" stroke-width="0.75" stroke-linejoin="round"/>
<polygon points="299.50,637.00 300.06,636.67 300.84,636.21 301.51,635.80 301.90,635.84 302.18,635.93 302.60,635.00 303.27,632.41 304.08,628.79 304.90,625.00 305.73,621.26 306.56,617.33 307.30,613.40 307.87,609.51 308.34,605.60 308.80,601.70 309.29,597.80 309.77,593.89 310.20,590.00 310.54,586.13 310.82,582.27 311.10,578.40 311.41,574.51 311.73,570.60 312.00,566.70 312.16,562.63 312.27,558.55 312.50,555.00 312.93,552.21 313.48,549.94 314.00,548.00 314.45,546.15 314.88,544.63 315.30,544.00 315.70,544.63 316.10,546.15 316.50,548.00 316.94,549.94 317.40,552.21 317.80,555.00 318.10,558.55 318.34,562.63 318.60,566.70 318.89,570.60 319.19,574.51 319.50,578.40 319.83,582.27 320.18,586.13 320.50,590.00 320.77,593.89 321.01,597.80 321.30,601.70 321.65,605.60 322.05,609.51 322.50,613.40 323.01,617.33 323.57,621.26 324.20,625.00 324.96,628.79 325.79,632.41 326.50,635.00 326.95,635.93 327.28,635.84 327.72,635.80 328.49,636.21 329.37,636.67 330.00,637.00" fill="#000"/>
<line x1="281.2" y1="537.1" x2="281.2" y2="637.6" stroke="#707070" stroke-width="1"/>
<line x1="280.7" y1="637.0" x2="382.5" y2="637.0" stroke="#000" stroke-width="1.4"/>
<line x1="279.0" y1="637.0" x2="281.2" y2="637.0" stroke="#444" stroke-width="0.8"/>
<text transform="translate(276.5 640.5) scale(0.8800 1)" font-size="8.000" text-anchor="end" fill="#000" stroke-width="0.38">0</text>
<line x1="280.0" y1="627.52" x2="281.2" y2="627.52" stroke="#777" stroke-width="0.6"/>
<line x1="279.0" y1="618.04" x2="281.2" y2="618.04" stroke="#444" stroke-width="0.8"/>
<text transform="translate(276.5 621.54) scale(0.8800 1)" font-size="8.000" text-anchor="end" fill="#000" stroke-width="0.38">20</text>
<line x1="280.0" y1="608.5600000000001" x2="281.2" y2="608.5600000000001" stroke="#777" stroke-width="0.6"/>
<line x1="279.0" y1="599.08" x2="281.2" y2="599.08" stroke="#444" stroke-width="0.8"/>
<text transform="translate(276.5 602.58) scale(0.8800 1)" font-size="8.000" text-anchor="end" fill="#000" stroke-width="0.38">40</text>
<line x1="280.0" y1="589.6" x2="281.2" y2="589.6" stroke="#777" stroke-width="0.6"/>
<line x1="279.0" y1="580.12" x2="281.2" y2="580.12" stroke="#444" stroke-width="0.8"/>
<text transform="translate(276.5 583.62) scale(0.8800 1)" font-size="8.000" text-anchor="end" fill="#000" stroke-width="0.38">60</text>
<line x1="280.0" y1="570.64" x2="281.2" y2="570.64" stroke="#777" stroke-width="0.6"/>
<line x1="279.0" y1="561.1600000000001" x2="281.2" y2="561.1600000000001" stroke="#444" stroke-width="0.8"/>
<text transform="translate(276.5 564.6600000000001) scale(0.8800 1)" font-size="8.000" text-anchor="end" fill="#000" stroke-width="0.38">80</text>
<line x1="280.0" y1="551.6800000000001" x2="281.2" y2="551.6800000000001" stroke="#777" stroke-width="0.6"/>
<line x1="279.0" y1="542.2" x2="281.2" y2="542.2" stroke="#444" stroke-width="0.8"/>
<text transform="translate(276.5 545.7) scale(0.8800 1)" font-size="8.000" text-anchor="end" fill="#000" stroke-width="0.38">100</text>
<text transform="translate(264.6 586.7) rotate(-90) scale(0.8800 1.0000)" font-size="9.000" text-anchor="middle" fill="#000" stroke-width="0.25">% of max</text>
<text transform="translate(378.0 548.6) scale(1.0000 1)" font-size="9.800" text-anchor="end" fill="#000" stroke-width="0.25">MFI stim : 102</text>
<text transform="translate(286.0 651.6) scale(1.0000 1)" font-size="7.900" text-anchor="start" fill="#000" stroke-width="0.38">0</text>
<text transform="translate(294.1 651.6) scale(1.0000 1)" font-size="7.900" text-anchor="start" stroke-width="0.38">10<tspan font-size="5.8" dy="-3.9">2</tspan></text>
<text transform="translate(318.40000000000003 651.6) scale(1.0000 1)" font-size="7.900" text-anchor="start" stroke-width="0.38">10<tspan font-size="5.8" dy="-3.9">3</tspan></text>
<text transform="translate(341.1 651.6) scale(1.0000 1)" font-size="7.900" text-anchor="start" stroke-width="0.38">10<tspan font-size="5.8" dy="-3.9">4</tspan></text>
<text transform="translate(364.3 651.6) scale(1.0000 1)" font-size="7.900" text-anchor="start" stroke-width="0.38">10<tspan font-size="5.8" dy="-3.9">5</tspan></text>
<text transform="translate(449.5 524.9) scale(0.9524 1)" font-size="13.650" text-anchor="start" fill="#000" stroke-width="0.12">IL-1β</text>
<line x1="412.3" y1="537.6" x2="512.8" y2="537.6" stroke="#8a8a8a" stroke-width="1"/>
<line x1="512.8" y1="537.6" x2="512.8" y2="637.0" stroke="#8a8a8a" stroke-width="1"/>
<polygon points="420.50,637.00 421.00,636.67 421.71,636.21 422.32,635.80 422.62,635.84 422.82,635.93 423.30,635.00 424.32,632.41 425.63,628.79 426.80,625.00 427.67,621.26 428.41,617.33 429.10,613.40 429.75,609.51 430.35,605.60 430.90,601.70 431.41,597.80 431.89,593.89 432.30,590.00 432.63,586.13 432.90,582.27 433.20,578.40 433.59,574.51 434.01,570.60 434.40,566.70 434.72,562.63 435.01,558.55 435.30,555.00 435.60,552.22 435.91,549.96 436.20,548.00 436.45,546.09 436.69,544.47 437.00,543.70 437.46,544.25 438.00,545.64 438.50,547.00 438.89,547.95 439.24,548.86 439.60,550.00 439.99,551.27 440.40,552.76 440.80,555.00 441.21,558.40 441.63,562.55 442.00,566.70 442.30,570.60 442.56,574.51 442.80,578.40 443.03,582.27 443.24,586.13 443.50,590.00 443.83,593.89 444.20,597.80 444.60,601.70 445.02,605.60 445.48,609.51 446.00,613.40 446.59,617.33 447.24,621.26 448.00,625.00 448.99,628.79 450.08,632.41 451.00,635.00 451.54,635.93 451.90,635.84 452.40,635.80 453.27,636.21 454.28,636.67 455.00,637.00" fill="#adadad" stroke="#5e5e5e" stroke-width="0.75" stroke-linejoin="round"/>
<polygon points="432.50,637.00 433.04,636.67 433.79,636.21 434.45,635.80 434.78,635.84 435.02,635.93 435.50,635.00 436.47,632.41 437.69,628.79 438.80,625.00 439.66,621.26 440.41,617.33 441.10,613.40 441.73,609.51 442.30,605.60 442.80,601.70 443.21,597.80 443.55,593.89 443.90,590.00 444.29,586.13 444.70,582.27 445.10,578.40 445.51,574.51 445.92,570.60 446.30,566.70 446.60,562.63 446.87,558.55 447.20,555.00 447.64,552.21 448.13,549.94 448.60,548.00 449.01,546.15 449.41,544.63 449.80,544.00 450.17,544.63 450.54,546.15 451.00,548.00 451.64,549.94 452.38,552.21 453.00,555.00 453.40,558.55 453.70,562.63 454.00,566.70 454.37,570.60 454.74,574.51 455.10,578.40 455.41,582.27 455.69,586.13 456.00,590.00 456.35,593.89 456.72,597.80 457.10,601.70 457.48,605.60 457.87,609.51 458.30,613.40 458.74,617.33 459.22,621.26 459.80,625.00 460.58,628.79 461.46,632.41 462.20,635.00 462.64,635.93 462.94,635.84 463.36,635.80 464.08,636.21 464.91,636.67 465.50,637.00" fill="#000"/>
<line x1="412.3" y1="537.1" x2="412.3" y2="637.6" stroke="#707070" stroke-width="1"/>
<line x1="411.8" y1="637.0" x2="513.3" y2="637.0" stroke="#000" stroke-width="1.4"/>
<line x1="410.1" y1="637.0" x2="412.3" y2="637.0" stroke="#444" stroke-width="0.8"/>
<text transform="translate(407.5 640.5) scale(0.8800 1)" font-size="8.000" text-anchor="end" fill="#000" stroke-width="0.38">0</text>
<line x1="411.1" y1="627.52" x2="412.3" y2="627.52" stroke="#777" stroke-width="0.6"/>
<line x1="410.1" y1="618.04" x2="412.3" y2="618.04" stroke="#444" stroke-width="0.8"/>
<text transform="translate(407.5 621.54) scale(0.8800 1)" font-size="8.000" text-anchor="end" fill="#000" stroke-width="0.38">20</text>
<line x1="411.1" y1="608.5600000000001" x2="412.3" y2="608.5600000000001" stroke="#777" stroke-width="0.6"/>
<line x1="410.1" y1="599.08" x2="412.3" y2="599.08" stroke="#444" stroke-width="0.8"/>
<text transform="translate(407.5 602.58) scale(0.8800 1)" font-size="8.000" text-anchor="end" fill="#000" stroke-width="0.38">40</text>
<line x1="411.1" y1="589.6" x2="412.3" y2="589.6" stroke="#777" stroke-width="0.6"/>
<line x1="410.1" y1="580.12" x2="412.3" y2="580.12" stroke="#444" stroke-width="0.8"/>
<text transform="translate(407.5 583.62) scale(0.8800 1)" font-size="8.000" text-anchor="end" fill="#000" stroke-width="0.38">60</text>
<line x1="411.1" y1="570.64" x2="412.3" y2="570.64" stroke="#777" stroke-width="0.6"/>
<line x1="410.1" y1="561.1600000000001" x2="412.3" y2="561.1600000000001" stroke="#444" stroke-width="0.8"/>
<text transform="translate(407.5 564.6600000000001) scale(0.8800 1)" font-size="8.000" text-anchor="end" fill="#000" stroke-width="0.38">80</text>
<line x1="411.1" y1="551.6800000000001" x2="412.3" y2="551.6800000000001" stroke="#777" stroke-width="0.6"/>
<line x1="410.1" y1="542.2" x2="412.3" y2="542.2" stroke="#444" stroke-width="0.8"/>
<text transform="translate(407.5 545.7) scale(0.8800 1)" font-size="8.000" text-anchor="end" fill="#000" stroke-width="0.38">100</text>
<text transform="translate(395.4 586.7) rotate(-90) scale(0.8800 1.0000)" font-size="9.000" text-anchor="middle" fill="#000" stroke-width="0.25">% of max</text>
<text transform="translate(509.5 548.6) scale(1.0000 1)" font-size="9.800" text-anchor="end" fill="#000" stroke-width="0.25">MFI stim : 175</text>
<text transform="translate(417.09999999999997 651.6) scale(1.0000 1)" font-size="7.900" text-anchor="start" fill="#000" stroke-width="0.38">0</text>
<text transform="translate(425.2 651.6) scale(1.0000 1)" font-size="7.900" text-anchor="start" stroke-width="0.38">10<tspan font-size="5.8" dy="-3.9">2</tspan></text>
<text transform="translate(449.5 651.6) scale(1.0000 1)" font-size="7.900" text-anchor="start" stroke-width="0.38">10<tspan font-size="5.8" dy="-3.9">3</tspan></text>
<text transform="translate(472.3 651.6) scale(1.0000 1)" font-size="7.900" text-anchor="start" stroke-width="0.38">10<tspan font-size="5.8" dy="-3.9">4</tspan></text>
<text transform="translate(495.6 651.6) scale(1.0000 1)" font-size="7.900" text-anchor="start" stroke-width="0.38">10<tspan font-size="5.8" dy="-3.9">5</tspan></text>
<line x1="24.5" y1="661.4" x2="501" y2="661.4" stroke="#444" stroke-width="1.3"/>
<path d="M509.4,661.5 L499.8,657.8 L501.8,661.5 L499.8,665.2 Z" fill="#111"/>
<text transform="translate(252.6 684.2) scale(0.9804 1)" font-size="13.260" text-anchor="start" fill="#000" stroke-width="0.12">B7-H6</text>
<line x1="85.7" y1="195.1" x2="85.7" y2="383.5" stroke="#111" stroke-width="1.1"/>
<line x1="85.7" y1="383.0" x2="260.4" y2="383.0" stroke="#111" stroke-width="1.1"/>
<line x1="82.10000000000001" y1="383.0" x2="85.7" y2="383.0" stroke="#222" stroke-width="0.9"/>
<text transform="translate(77.0 383.3) rotate(-90) scale(1.0000 0.9390)" font-size="10.300" text-anchor="middle" fill="#000" stroke-width="0.25">0</text>
<line x1="82.10000000000001" y1="356.2" x2="85.7" y2="356.2" stroke="#222" stroke-width="0.9"/>
<text transform="translate(77.0 356.5) rotate(-90) scale(1.0000 0.9390)" font-size="10.300" text-anchor="middle" fill="#000" stroke-width="0.25">1000</text>
<line x1="82.10000000000001" y1="329.4" x2="85.7" y2="329.4" stroke="#222" stroke-width="0.9"/>
<text transform="translate(77.0 329.7) rotate(-90) scale(1.0000 0.9390)" font-size="10.300" text-anchor="middle" fill="#000" stroke-width="0.25">2000</text>
<line x1="82.10000000000001" y1="302.6" x2="85.7" y2="302.6" stroke="#222" stroke-width="0.9"/>
<text transform="translate(77.0 302.90000000000003) rotate(-90) scale(1.0000 0.9390)" font-size="10.300" text-anchor="middle" fill="#000" stroke-width="0.25">3000</text>
<line x1="82.10000000000001" y1="275.8" x2="85.7" y2="275.8" stroke="#222" stroke-width="0.9"/>
<text transform="translate(77.0 276.1) rotate(-90) scale(1.0000 0.9390)" font-size="10.300" text-anchor="middle" fill="#000" stroke-width="0.25">4000</text>
<line x1="82.10000000000001" y1="249.0" x2="85.7" y2="249.0" stroke="#222" stroke-width="0.9"/>
<text transform="translate(77.0 249.3) rotate(-90) scale(1.0000 0.9390)" font-size="10.300" text-anchor="middle" fill="#000" stroke-width="0.25">5000</text>
<line x1="82.10000000000001" y1="222.2" x2="85.7" y2="222.2" stroke="#222" stroke-width="0.9"/>
<text transform="translate(77.0 222.5) rotate(-90) scale(1.0000 0.9390)" font-size="10.300" text-anchor="middle" fill="#000" stroke-width="0.25">6000</text>
<line x1="82.10000000000001" y1="195.4" x2="85.7" y2="195.4" stroke="#222" stroke-width="0.9"/>
<text transform="translate(77.0 195.70000000000002) rotate(-90) scale(1.0000 0.9390)" font-size="10.300" text-anchor="middle" fill="#000" stroke-width="0.25">7000</text>
<text transform="translate(43.3 281.8) rotate(-90) scale(1.0000 0.9390)" font-size="11.500" text-anchor="middle" fill="#000" stroke-width="0.25">IL-2 production by reporter cells</text>
<text transform="translate(57.7 283.4) rotate(-90) scale(1.0000 0.9390)" font-size="11.500" text-anchor="middle" fill="#000" stroke-width="0.25">(CTTL2 viability, a.u)</text>
<line x1="100.2" y1="383.0" x2="100.2" y2="387.3" stroke="#222" stroke-width="0.9"/>
<line x1="129.4" y1="383.0" x2="129.4" y2="387.3" stroke="#222" stroke-width="0.9"/>
<line x1="158.6" y1="383.0" x2="158.6" y2="387.3" stroke="#222" stroke-width="0.9"/>
<line x1="187.7" y1="383.0" x2="187.7" y2="387.3" stroke="#222" stroke-width="0.9"/>
<line x1="216.7" y1="383.0" x2="216.7" y2="387.3" stroke="#222" stroke-width="0.9"/>
<line x1="246.0" y1="383.0" x2="246.0" y2="387.3" stroke="#222" stroke-width="0.9"/>
<defs><linearGradient id="gl" x1="0" x2="1" y1="0" y2="0"><stop offset="0" stop-color="#c8c8c8"/><stop offset="0.5" stop-color="#eeeeee"/><stop offset="1" stop-color="#c8c8c8"/></linearGradient><linearGradient id="gd" x1="0" x2="1" y1="0" y2="0"><stop offset="0" stop-color="#6a6a6a"/><stop offset="0.5" stop-color="#9a9a9a"/><stop offset="1" stop-color="#6a6a6a"/></linearGradient></defs>
<line x1="92.2" y1="314.4" x2="92.2" y2="327.2" stroke="#111" stroke-width="1.0"/>
<line x1="90.7" y1="314.4" x2="93.7" y2="314.4" stroke="#111" stroke-width="1.0"/>
<rect x="89.80000000000001" y="327.59999999999997" width="4.7999999999999945" height="55.40000000000001" fill="url(#gl)" stroke="#333" stroke-width="0.8"/>
<line x1="100.0" y1="333.8" x2="100.0" y2="340.0" stroke="#111" stroke-width="1.0"/>
<line x1="98.5" y1="333.8" x2="101.5" y2="333.8" stroke="#111" stroke-width="1.0"/>
<rect x="97.9" y="340.4" width="4.2" height="42.6" fill="url(#gd)" stroke="#333" stroke-width="0.8"/>
<line x1="107.9" y1="303.3" x2="107.9" y2="317.0" stroke="#111" stroke-width="1.0"/>
<line x1="106.4" y1="303.3" x2="109.4" y2="303.3" stroke="#111" stroke-width="1.0"/>
<rect x="105.4" y="317.4" width="4.999999999999997" height="65.6" fill="#000" stroke="#000" stroke-width="0.8"/>
<line x1="121.0" y1="343.3" x2="121.0" y2="346.3" stroke="#111" stroke-width="1.0"/>
<line x1="119.5" y1="343.3" x2="122.5" y2="343.3" stroke="#111" stroke-width="1.0"/>
<rect x="118.60000000000001" y="346.7" width="4.7999999999999945" height="36.29999999999999" fill="url(#gl)" stroke="#333" stroke-width="0.8"/>
<line x1="129.4" y1="356.0" x2="129.4" y2="357.5" stroke="#111" stroke-width="1.0"/>
<line x1="127.9" y1="356.0" x2="130.9" y2="356.0" stroke="#111" stroke-width="1.0"/>
<rect x="127.4" y="357.9" width="4.0000000000000115" height="25.1" fill="url(#gd)" stroke="#333" stroke-width="0.8"/>
<line x1="137.3" y1="350.0" x2="137.3" y2="351.8" stroke="#111" stroke-width="1.0"/>
<line x1="135.8" y1="350.0" x2="138.8" y2="350.0" stroke="#111" stroke-width="1.0"/>
<rect x="135.4" y="352.2" width="3.7999999999999945" height="30.79999999999999" fill="#000" stroke="#000" stroke-width="0.8"/>
<line x1="151.0" y1="211.3" x2="151.0" y2="218.0" stroke="#111" stroke-width="1.0"/>
<line x1="149.5" y1="211.3" x2="152.5" y2="211.3" stroke="#111" stroke-width="1.0"/>
<rect x="148.6" y="218.4" width="4.800000000000023" height="164.6" fill="url(#gl)" stroke="#333" stroke-width="0.8"/>
<line x1="158.9" y1="334.3" x2="158.9" y2="340.0" stroke="#111" stroke-width="1.0"/>
<line x1="157.4" y1="334.3" x2="160.4" y2="334.3" stroke="#111" stroke-width="1.0"/>
<rect x="156.9" y="340.4" width="4.0000000000000115" height="42.6" fill="url(#gd)" stroke="#333" stroke-width="0.8"/>
<line x1="166.65" y1="240.5" x2="166.65" y2="247.0" stroke="#111" stroke-width="1.0"/>
<line x1="165.15" y1="240.5" x2="168.15" y2="240.5" stroke="#111" stroke-width="1.0"/>
<rect x="164.20000000000002" y="247.4" width="4.899999999999989" height="135.6" fill="#000" stroke="#000" stroke-width="0.8"/>
<line x1="180.2" y1="323.3" x2="180.2" y2="327.1" stroke="#111" stroke-width="1.0"/>
<line x1="178.7" y1="323.3" x2="181.7" y2="323.3" stroke="#111" stroke-width="1.0"/>
<rect x="177.70000000000002" y="327.5" width="4.999999999999983" height="55.49999999999998" fill="url(#gl)" stroke="#333" stroke-width="0.8"/>
<line x1="187.8" y1="335.2" x2="187.8" y2="340.0" stroke="#111" stroke-width="1.0"/>
<line x1="186.3" y1="335.2" x2="189.3" y2="335.2" stroke="#111" stroke-width="1.0"/>
<rect x="185.8" y="340.4" width="3.999999999999983" height="42.6" fill="url(#gd)" stroke="#333" stroke-width="0.8"/>
<line x1="195.9" y1="335.6" x2="195.9" y2="340.6" stroke="#111" stroke-width="1.0"/>
<line x1="194.4" y1="335.6" x2="197.4" y2="335.6" stroke="#111" stroke-width="1.0"/>
<rect x="193.4" y="341.0" width="5.0000000000000115" height="41.99999999999998" fill="#000" stroke="#000" stroke-width="0.8"/>
<line x1="209.25" y1="319.0" x2="209.25" y2="319.8" stroke="#111" stroke-width="1.0"/>
<line x1="207.75" y1="319.0" x2="210.75" y2="319.0" stroke="#111" stroke-width="1.0"/>
<rect x="206.6" y="320.2" width="5.300000000000023" height="62.79999999999999" fill="url(#gl)" stroke="#333" stroke-width="0.8"/>
<line x1="217.1" y1="333.8" x2="217.1" y2="336.2" stroke="#111" stroke-width="1.0"/>
<line x1="215.6" y1="333.8" x2="218.6" y2="333.8" stroke="#111" stroke-width="1.0"/>
<rect x="214.6" y="336.59999999999997" width="5.0000000000000115" height="46.40000000000001" fill="url(#gd)" stroke="#333" stroke-width="0.8"/>
<line x1="225.0" y1="344.4" x2="225.0" y2="347.7" stroke="#111" stroke-width="1.0"/>
<line x1="223.5" y1="344.4" x2="226.5" y2="344.4" stroke="#111" stroke-width="1.0"/>
<rect x="222.70000000000002" y="348.09999999999997" width="4.599999999999977" height="34.90000000000001" fill="#000" stroke="#000" stroke-width="0.8"/>
<line x1="238.55" y1="331.7" x2="238.55" y2="339.4" stroke="#111" stroke-width="1.0"/>
<line x1="237.05" y1="331.7" x2="240.05" y2="331.7" stroke="#111" stroke-width="1.0"/>
<rect x="235.8" y="339.79999999999995" width="5.499999999999983" height="43.200000000000024" fill="url(#gl)" stroke="#333" stroke-width="0.8"/>
<line x1="246.15" y1="352.5" x2="246.15" y2="354.4" stroke="#111" stroke-width="1.0"/>
<line x1="244.65" y1="352.5" x2="247.65" y2="352.5" stroke="#111" stroke-width="1.0"/>
<rect x="243.9" y="354.79999999999995" width="4.5000000000000115" height="28.200000000000024" fill="url(#gd)" stroke="#333" stroke-width="0.8"/>
<line x1="254.04999999999998" y1="349.0" x2="254.04999999999998" y2="351.5" stroke="#111" stroke-width="1.0"/>
<line x1="252.54999999999998" y1="349.0" x2="255.54999999999998" y2="349.0" stroke="#111" stroke-width="1.0"/>
<rect x="251.6" y="351.9" width="4.899999999999989" height="31.1" fill="#000" stroke="#000" stroke-width="0.8"/>
<polygon points="145.50,194.40 146.24,196.18 148.16,196.33 146.70,197.59 147.15,199.47 145.50,198.46 143.85,199.47 144.30,197.59 142.84,196.33 144.76,196.18" fill="#111"/>
<polygon points="151.40,194.40 152.14,196.18 154.06,196.33 152.60,197.59 153.05,199.47 151.40,198.46 149.75,199.47 150.20,197.59 148.74,196.33 150.66,196.18" fill="#111"/>
<polygon points="157.00,194.40 157.74,196.18 159.66,196.33 158.20,197.59 158.65,199.47 157.00,198.46 155.35,199.47 155.80,197.59 154.34,196.33 156.26,196.18" fill="#111"/>
<rect x="218.4" y="198.8" width="14.2" height="5.6" fill="url(#gl)" stroke="#333" stroke-width="0.8"/>
<rect x="218.4" y="210.6" width="14.2" height="5.6" fill="url(#gd)" stroke="#333" stroke-width="0.8"/>
<rect x="218.4" y="222.6" width="14.2" height="5.6" fill="#000" stroke="#000" stroke-width="0.8"/>
<text transform="translate(237.4 204.2) scale(0.9390 1)" font-size="11.821" text-anchor="start" fill="#000" stroke-width="0.25">control</text>
<text transform="translate(237.4 216.5) scale(0.9390 1)" font-size="11.821" text-anchor="start" fill="#000" stroke-width="0.25">17B1.3</text>
<text transform="translate(237.4 228.5) scale(0.9390 1)" font-size="11.821" text-anchor="start" fill="#000" stroke-width="0.25">mIgG1</text>
<text transform="translate(1.8 420.0) scale(0.9390 1)" font-size="10.490" text-anchor="start" fill="#000" stroke-width="0.25">Unstimulated</text>
<text transform="translate(1.8 430.5) scale(0.9390 1)" font-size="10.490" text-anchor="start" fill="#000" stroke-width="0.25">monocytes control</text>
<text transform="translate(1.8 444.5) scale(0.9390 1)" font-size="10.490" text-anchor="start" fill="#000" stroke-width="0.25">IL-1β-stimulated</text>
<text transform="translate(1.8 454.5) scale(0.9390 1)" font-size="10.490" text-anchor="start" fill="#000" stroke-width="0.25">monocytes</text>
<text transform="translate(1.4 471.2) scale(0.9390 1)" font-size="10.490" text-anchor="start" stroke-width="0.25">NKp30 <tspan font-size="8.7" dy="-2.6">+</tspan></text>
<text transform="translate(1.4 490.5) scale(0.9390 1)" font-size="10.490" text-anchor="start" stroke-width="0.25">NKp30 <tspan font-size="8.7" dy="-2.8">-</tspan><tspan dy="2.8" dx="1.0"> parental</tspan></text>
<line x1="98.0" y1="420.4" x2="103.0" y2="420.4" stroke="#222" stroke-width="1.0"/>
<line x1="100.5" y1="417.9" x2="100.5" y2="422.9" stroke="#222" stroke-width="1.0"/>
<line x1="127.4" y1="420.4" x2="132.4" y2="420.4" stroke="#222" stroke-width="1.0"/>
<line x1="129.9" y1="417.9" x2="129.9" y2="422.9" stroke="#222" stroke-width="1.0"/>
<line x1="155.9" y1="421.2" x2="159.1" y2="421.2" stroke="#333" stroke-width="1.1"/>
<line x1="185.3" y1="421.2" x2="188.5" y2="421.2" stroke="#333" stroke-width="1.1"/>
<line x1="215.10000000000002" y1="421.2" x2="218.3" y2="421.2" stroke="#333" stroke-width="1.1"/>
<line x1="245.20000000000002" y1="421.2" x2="248.4" y2="421.2" stroke="#333" stroke-width="1.1"/>
<line x1="98.8" y1="446.6" x2="102.0" y2="446.6" stroke="#333" stroke-width="1.1"/>
<line x1="128.20000000000002" y1="446.6" x2="131.4" y2="446.6" stroke="#333" stroke-width="1.1"/>
<line x1="155.1" y1="445.8" x2="160.1" y2="445.8" stroke="#222" stroke-width="1.0"/>
<line x1="157.6" y1="443.3" x2="157.6" y2="448.3" stroke="#222" stroke-width="1.0"/>
<line x1="184.5" y1="445.8" x2="189.5" y2="445.8" stroke="#222" stroke-width="1.0"/>
<line x1="187.0" y1="443.3" x2="187.0" y2="448.3" stroke="#222" stroke-width="1.0"/>
<line x1="215.10000000000002" y1="446.6" x2="218.3" y2="446.6" stroke="#333" stroke-width="1.1"/>
<line x1="245.20000000000002" y1="446.6" x2="248.4" y2="446.6" stroke="#333" stroke-width="1.1"/>
<line x1="98.0" y1="466.4" x2="103.0" y2="466.4" stroke="#222" stroke-width="1.0"/>
<line x1="100.5" y1="463.9" x2="100.5" y2="468.9" stroke="#222" stroke-width="1.0"/>
<line x1="128.20000000000002" y1="467.2" x2="131.4" y2="467.2" stroke="#333" stroke-width="1.1"/>
<line x1="155.1" y1="466.4" x2="160.1" y2="466.4" stroke="#222" stroke-width="1.0"/>
<line x1="157.6" y1="463.9" x2="157.6" y2="468.9" stroke="#222" stroke-width="1.0"/>
<line x1="185.3" y1="467.2" x2="188.5" y2="467.2" stroke="#333" stroke-width="1.1"/>
<line x1="214.3" y1="466.4" x2="219.3" y2="466.4" stroke="#222" stroke-width="1.0"/>
<line x1="216.8" y1="463.9" x2="216.8" y2="468.9" stroke="#222" stroke-width="1.0"/>
<line x1="245.20000000000002" y1="467.2" x2="248.4" y2="467.2" stroke="#333" stroke-width="1.1"/>
<line x1="98.8" y1="489.1" x2="102.0" y2="489.1" stroke="#333" stroke-width="1.1"/>
<line x1="127.4" y1="488.3" x2="132.4" y2="488.3" stroke="#222" stroke-width="1.0"/>
<line x1="129.9" y1="485.8" x2="129.9" y2="490.8" stroke="#222" stroke-width="1.0"/>
<line x1="155.9" y1="489.1" x2="159.1" y2="489.1" stroke="#333" stroke-width="1.1"/>
<line x1="184.5" y1="488.3" x2="189.5" y2="488.3" stroke="#222" stroke-width="1.0"/>
<line x1="187.0" y1="485.8" x2="187.0" y2="490.8" stroke="#222" stroke-width="1.0"/>
<line x1="215.10000000000002" y1="489.1" x2="218.3" y2="489.1" stroke="#333" stroke-width="1.1"/>
<line x1="244.4" y1="488.3" x2="249.4" y2="488.3" stroke="#222" stroke-width="1.0"/>
<line x1="246.9" y1="485.8" x2="246.9" y2="490.8" stroke="#222" stroke-width="1.0"/>
<line x1="408.4" y1="212.3" x2="408.4" y2="383.3" stroke="#777" stroke-width="1"/>
<line x1="408.4" y1="383.3" x2="515.3" y2="383.3" stroke="#777" stroke-width="1"/>
<line x1="404.79999999999995" y1="383.3" x2="408.4" y2="383.3" stroke="#777" stroke-width="0.9"/>
<text transform="translate(400.9 387.2) scale(0.9390 1)" font-size="11.715" text-anchor="end" fill="#000" stroke-width="0.25">0</text>
<line x1="404.79999999999995" y1="340.55" x2="408.4" y2="340.55" stroke="#777" stroke-width="0.9"/>
<text transform="translate(400.9 344.45) scale(0.9390 1)" font-size="11.715" text-anchor="end" fill="#000" stroke-width="0.25">5</text>
<line x1="404.79999999999995" y1="297.8" x2="408.4" y2="297.8" stroke="#777" stroke-width="0.9"/>
<text transform="translate(399.6 301.7) scale(0.9390 1)" font-size="11.715" text-anchor="end" fill="#000" stroke-width="0.25">10</text>
<line x1="404.79999999999995" y1="255.05" x2="408.4" y2="255.05" stroke="#777" stroke-width="0.9"/>
<text transform="translate(399.6 258.95) scale(0.9390 1)" font-size="11.715" text-anchor="end" fill="#000" stroke-width="0.25">15</text>
<line x1="404.79999999999995" y1="212.3" x2="408.4" y2="212.3" stroke="#777" stroke-width="0.9"/>
<text transform="translate(399.6 216.20000000000002) scale(0.9390 1)" font-size="11.715" text-anchor="end" fill="#000" stroke-width="0.25">20</text>
<text transform="translate(376.5 300) rotate(-90) scale(1 0.9390)" font-size="11.400" text-anchor="middle" stroke-width="0.25">% CD107<tspan font-size="7" dy="-4.3">+</tspan><tspan dy="4.3"> NK cells</tspan></text>
<line x1="418.6" y1="383.3" x2="418.6" y2="387.6" stroke="#777" stroke-width="0.9"/>
<line x1="440.2" y1="383.3" x2="440.2" y2="387.6" stroke="#777" stroke-width="0.9"/>
<line x1="461.5" y1="383.3" x2="461.5" y2="387.6" stroke="#777" stroke-width="0.9"/>
<line x1="483.0" y1="383.3" x2="483.0" y2="387.6" stroke="#777" stroke-width="0.9"/>
<line x1="504.3" y1="383.3" x2="504.3" y2="387.6" stroke="#777" stroke-width="0.9"/>
<line x1="418.7" y1="342.3" x2="418.7" y2="345.8" stroke="#333" stroke-width="0.9"/>
<line x1="415.3" y1="342.3" x2="422.09999999999997" y2="342.3" stroke="#333" stroke-width="0.9"/>
<rect x="412.29999999999995" y="346.2" width="12.800000000000022" height="37.1" fill="#000" stroke="#000" stroke-width="0.8"/>
<line x1="440.3" y1="306.1" x2="440.3" y2="311.8" stroke="#333" stroke-width="0.9"/>
<line x1="436.90000000000003" y1="306.1" x2="443.7" y2="306.1" stroke="#333" stroke-width="0.9"/>
<rect x="433.9" y="312.2" width="12.800000000000022" height="71.1" fill="#000" stroke="#000" stroke-width="0.8"/>
<line x1="461.45" y1="324.2" x2="461.45" y2="329.2" stroke="#333" stroke-width="0.9"/>
<line x1="458.05" y1="324.2" x2="464.84999999999997" y2="324.2" stroke="#333" stroke-width="0.9"/>
<rect x="454.9" y="329.59999999999997" width="13.099999999999977" height="53.700000000000024" fill="#fff" stroke="#222" stroke-width="0.8"/>
<line x1="483.1" y1="241.2" x2="483.1" y2="263.0" stroke="#333" stroke-width="0.9"/>
<line x1="479.70000000000005" y1="241.2" x2="486.5" y2="241.2" stroke="#333" stroke-width="0.9"/>
<rect x="476.79999999999995" y="263.4" width="12.600000000000033" height="119.9" fill="#000" stroke="#000" stroke-width="0.8"/>
<line x1="504.5" y1="312.6" x2="504.5" y2="318.0" stroke="#333" stroke-width="0.9"/>
<line x1="501.1" y1="312.6" x2="507.9" y2="312.6" stroke="#333" stroke-width="0.9"/>
<rect x="497.79999999999995" y="318.4" width="13.400000000000045" height="64.9" fill="#fff" stroke="#222" stroke-width="0.8"/>
<line x1="421.2" y1="206.9" x2="485" y2="206.9" stroke="#888" stroke-width="1"/>
<line x1="436.5" y1="222.7" x2="486.5" y2="222.7" stroke="#888" stroke-width="1"/>
<line x1="479.6" y1="236.5" x2="505.2" y2="236.5" stroke="#888" stroke-width="1"/>
<polygon points="446.90,196.55 447.60,198.24 449.42,198.38 448.03,199.57 448.46,201.34 446.90,200.39 445.34,201.34 445.77,199.57 444.38,198.38 446.20,198.24" fill="#111"/>
<polygon points="452.10,196.55 452.80,198.24 454.62,198.38 453.23,199.57 453.66,201.34 452.10,200.39 450.54,201.34 450.97,199.57 449.58,198.38 451.40,198.24" fill="#111"/>
<polygon points="457.20,196.55 457.90,198.24 459.72,198.38 458.33,199.57 458.76,201.34 457.20,200.39 455.64,201.34 456.07,199.57 454.68,198.38 456.50,198.24" fill="#111"/>
<polygon points="462.40,196.55 463.10,198.24 464.92,198.38 463.53,199.57 463.96,201.34 462.40,200.39 460.84,201.34 461.27,199.57 459.88,198.38 461.70,198.24" fill="#111"/>
<polygon points="459.00,214.65 459.70,216.34 461.52,216.48 460.13,217.67 460.56,219.44 459.00,218.49 457.44,219.44 457.87,217.67 456.48,216.48 458.30,216.34" fill="#111"/>
<polygon points="489.70,229.45 490.40,231.14 492.22,231.28 490.83,232.47 491.26,234.24 489.70,233.29 488.14,234.24 488.57,232.47 487.18,231.28 489.00,231.14" fill="#111"/>
<polygon points="495.00,229.45 495.70,231.14 497.52,231.28 496.13,232.47 496.56,234.24 495.00,233.29 493.44,234.24 493.87,232.47 492.48,231.28 494.30,231.14" fill="#111"/>
<text transform="translate(324.2 424.7) scale(0.9390 1)" font-size="10.490" text-anchor="start" fill="#000" stroke-width="0.25">NK cells</text>
<text transform="translate(324.2 440.4) scale(0.9390 1)" font-size="10.490" text-anchor="start" fill="#000" stroke-width="0.25">Unstimulated</text>
<text transform="translate(324.2 451.2) scale(0.9390 1)" font-size="10.490" text-anchor="start" fill="#000" stroke-width="0.25">monocytes control</text>
<text transform="translate(324.2 465.8) scale(0.9390 1)" font-size="10.490" text-anchor="start" fill="#000" stroke-width="0.25">IL-1β-stimulated</text>
<text transform="translate(324.2 476.2) scale(0.9390 1)" font-size="10.490" text-anchor="start" fill="#000" stroke-width="0.25">monocytes</text>
<text transform="translate(324.2 493.5) scale(0.9390 1)" font-size="10.490" text-anchor="start" stroke-width="0.25">17B1.3 F(ab)<tspan font-size="6.4" dy="-4">'</tspan><tspan font-size="6.4" dy="6">2</tspan></text>
<line x1="415.9" y1="419.8" x2="420.9" y2="419.8" stroke="#222" stroke-width="1.0"/>
<line x1="418.4" y1="417.3" x2="418.4" y2="422.3" stroke="#222" stroke-width="1.0"/>
<line x1="437.1" y1="419.8" x2="442.1" y2="419.8" stroke="#222" stroke-width="1.0"/>
<line x1="439.6" y1="417.3" x2="439.6" y2="422.3" stroke="#222" stroke-width="1.0"/>
<line x1="460.9" y1="419.8" x2="465.9" y2="419.8" stroke="#222" stroke-width="1.0"/>
<line x1="463.4" y1="417.3" x2="463.4" y2="422.3" stroke="#222" stroke-width="1.0"/>
<line x1="482.0" y1="419.8" x2="487.0" y2="419.8" stroke="#222" stroke-width="1.0"/>
<line x1="484.5" y1="417.3" x2="484.5" y2="422.3" stroke="#222" stroke-width="1.0"/>
<line x1="502.9" y1="419.8" x2="507.9" y2="419.8" stroke="#222" stroke-width="1.0"/>
<line x1="505.4" y1="417.3" x2="505.4" y2="422.3" stroke="#222" stroke-width="1.0"/>
<line x1="416.7" y1="443.3" x2="419.9" y2="443.3" stroke="#333" stroke-width="1.1"/>
<line x1="437.1" y1="442.5" x2="442.1" y2="442.5" stroke="#222" stroke-width="1.0"/>
<line x1="439.6" y1="440.0" x2="439.6" y2="445.0" stroke="#222" stroke-width="1.0"/>
<line x1="460.9" y1="442.5" x2="465.9" y2="442.5" stroke="#222" stroke-width="1.0"/>
<line x1="463.4" y1="440.0" x2="463.4" y2="445.0" stroke="#222" stroke-width="1.0"/>
<line x1="482.8" y1="443.3" x2="486.0" y2="443.3" stroke="#333" stroke-width="1.1"/>
<line x1="503.7" y1="443.3" x2="506.9" y2="443.3" stroke="#333" stroke-width="1.1"/>
<line x1="416.7" y1="465.8" x2="419.9" y2="465.8" stroke="#333" stroke-width="1.1"/>
<line x1="437.90000000000003" y1="465.8" x2="441.1" y2="465.8" stroke="#333" stroke-width="1.1"/>
<line x1="461.7" y1="465.8" x2="464.9" y2="465.8" stroke="#333" stroke-width="1.1"/>
<line x1="482.0" y1="465.0" x2="487.0" y2="465.0" stroke="#222" stroke-width="1.0"/>
<line x1="484.5" y1="462.5" x2="484.5" y2="467.5" stroke="#222" stroke-width="1.0"/>
<line x1="502.9" y1="465.0" x2="507.9" y2="465.0" stroke="#222" stroke-width="1.0"/>
<line x1="505.4" y1="462.5" x2="505.4" y2="467.5" stroke="#222" stroke-width="1.0"/>
<line x1="416.7" y1="491.5" x2="419.9" y2="491.5" stroke="#333" stroke-width="1.1"/>
<line x1="437.90000000000003" y1="491.5" x2="441.1" y2="491.5" stroke="#333" stroke-width="1.1"/>
<line x1="460.9" y1="490.7" x2="465.9" y2="490.7" stroke="#222" stroke-width="1.0"/>
<line x1="463.4" y1="488.2" x2="463.4" y2="493.2" stroke="#222" stroke-width="1.0"/>
<line x1="482.8" y1="491.5" x2="486.0" y2="491.5" stroke="#333" stroke-width="1.1"/>
<line x1="502.9" y1="490.7" x2="507.9" y2="490.7" stroke="#222" stroke-width="1.0"/>
<line x1="505.4" y1="488.2" x2="505.4" y2="493.2" stroke="#222" stroke-width="1.0"/>
</svg>
</body></html>
